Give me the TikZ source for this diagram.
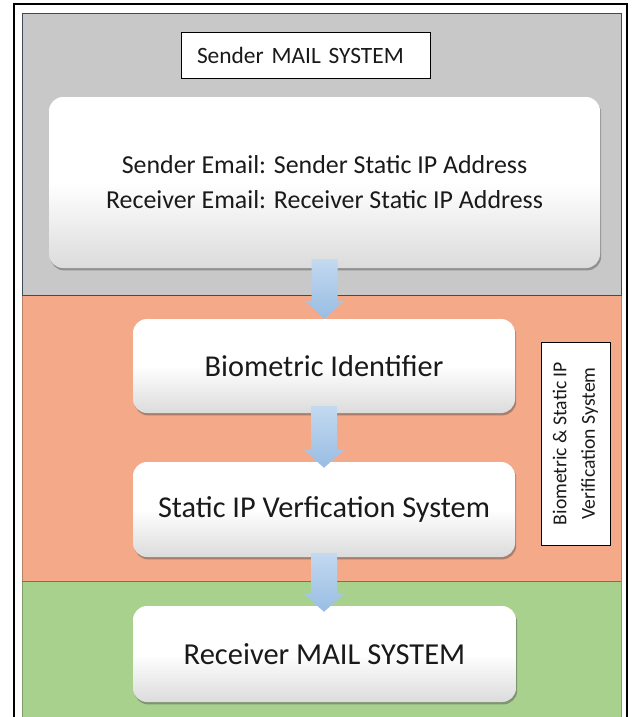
\documentclass[tikz,border=0pt]{standalone}
\usepackage{fontspec}
\setmainfont{Carlito}
\usetikzlibrary{shadows,calc}

\definecolor{bandgray}{HTML}{C8C8C8}
\definecolor{bandsalmon}{HTML}{F4AA89}
\definecolor{bandgreen}{HTML}{A9D18E}
\definecolor{bandline}{HTML}{3E4B5B}
\definecolor{arrowtop}{HTML}{C3D9F0}
\definecolor{arrowbot}{HTML}{98BDE3}
\definecolor{inktext}{HTML}{1A1A1A}

\tikzset{
  stagebox/.style={rounded corners=14pt, top color=white, bottom color=black!14,
    middle color=white, draw=none, text=inktext, align=center,
    drop shadow={shadow xshift=1.2pt, shadow yshift=-2.4pt, opacity=0.45, fill=black!70}},
  labelbox/.style={draw=black, line width=0.8pt, fill=white, text=inktext},
  flowfill/.style={top color=arrowtop, bottom color=arrowbot, draw=none}
}

% block arrow from the bottom of one node to the top of the next
\newcommand\flowarrow[4]{%
  \shade[flowfill] let \p1=($(#1.south)+(0,#3)$), \p2=($(#2.north)+(0,-#4)$) in
    (\x1-13pt,\y1) -- (\x1+13pt,\y1) -- (\x1+13pt,\y2+18pt) -- (\x1+20pt,\y2+18pt)
    -- (\x1,\y2) -- (\x1-20pt,\y2+18pt) -- (\x1-13pt,\y2+18pt) -- cycle;}

\begin{document}
\begin{tikzpicture}[x=1pt,y=-1pt]
\useasboundingbox (0,0) rectangle (633,717);
\fill[white] (0,0) rectangle (633,717);

% outer frame, open at the bottom
\draw[black, line width=2pt] (13.5,717) -- (13.5,4.5) -- (627,4.5) -- (627,717);

% three horizontal bands
\fill[bandgreen] (22,581) rectangle (621,717);
\draw[bandgreen!75!black, line width=0.6pt] (22,717) -- (22,581) -- (621,581) -- (621,717);
\fill[bandsalmon] (22,295) rectangle (621,581);
\draw[bandsalmon!75!black, line width=0.6pt] (22,581) -- (22,295) (621,295) -- (621,581);
\draw[bandsalmon!60!black!80!olive, line width=0.6pt] (22,581) -- (621,581);
\fill[bandgray] (22,13) rectangle (621,295);
\draw[bandline, line width=0.8pt] (22,13) rectangle (621,295);

% sender mail system
\node[labelbox, minimum width=249pt, minimum height=46pt, text width=217pt,
      inner xsep=16pt, align=left, font=\fontsize{23.4}{28}\selectfont]
  (title) at (305.5,55) {Sender MAIL SYSTEM};
\node[stagebox, minimum width=551pt, minimum height=171pt,
      font=\fontsize{25.9}{35}\selectfont]
  (addr) at (324.5,182.5) {Sender Email: Sender Static IP Address\\Receiver Email: Receiver Static IP Address};

% verification stages
\node[stagebox, minimum width=382pt, minimum height=94pt, font=\fontsize{30.3}{36}\selectfont]
  (bio) at (324,366) {Biometric Identifier};
\node[stagebox, minimum width=382pt, minimum height=95pt, font=\fontsize{30.3}{36}\selectfont]
  (sip) at (324,509.5) {Static IP Verfication System};
\node[labelbox, rotate=90, minimum width=203pt, minimum height=69pt, align=center,
      font=\fontsize{19.7}{28.5}\selectfont]
  (side) at (575.5,443.5) {Biometric \& Static IP\\Verification System};

% receiver
\node[stagebox, minimum width=383pt, minimum height=96pt, font=\fontsize{30.5}{36}\selectfont]
  (rcv) at (324.5,654) {Receiver MAIL SYSTEM};

% flow arrows
\flowarrow{addr}{bio}{9pt}{0pt}
\flowarrow{bio}{sip}{7pt}{6pt}
\flowarrow{sip}{rcv}{4pt}{6pt}
\end{tikzpicture}
\end{document}
